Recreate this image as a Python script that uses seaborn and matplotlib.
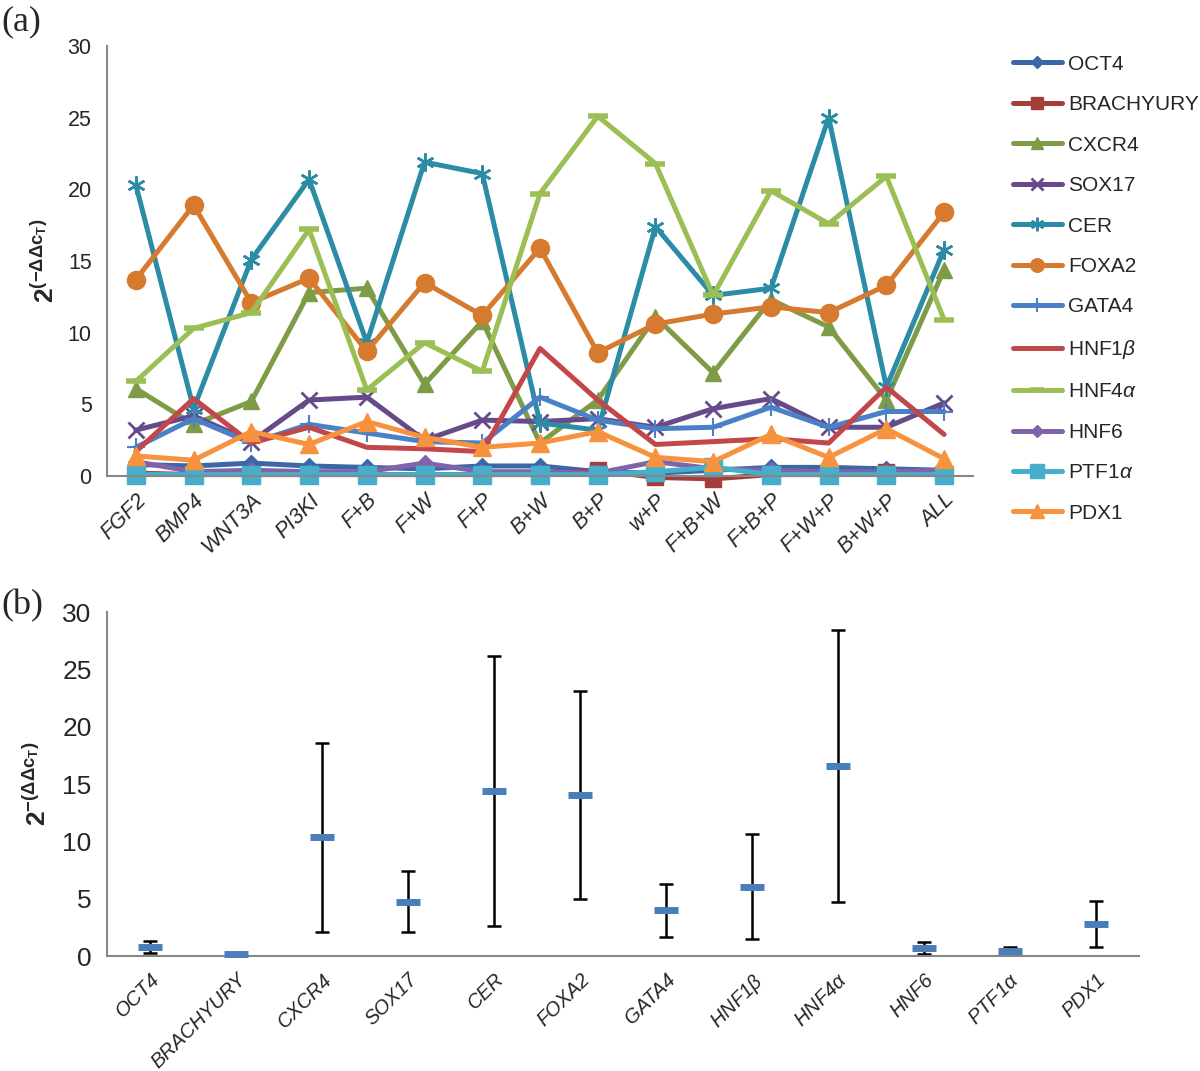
import numpy as np
import pandas as pd
import matplotlib
matplotlib.use("Agg")
import matplotlib.pyplot as plt
import seaborn as sns
from matplotlib.ticker import FixedLocator, MultipleLocator

# ---------------- data ----------------
conditions = ["FGF2", "BMP4", "WNT3A", "PI3KI", "F+B", "F+W", "F+P", "B+W", "B+P",
              "w+P", "F+B+W", "F+B+P", "F+W+P", "B+W+P", "ALL"]

oct4      = [0.8, 0.7, 0.9, 0.7, 0.6, 0.5, 0.7, 0.7, 0.3, 0.2, 0.4, 0.6, 0.6, 0.5, 0.4]
brachyury = [0.2, 0.1, 0.1, 0.1, 0.1, 0.1, 0.1, 0.1, 0.4, -0.1, -0.2, 0.1, 0.1, 0.3, 0.1]
cxcr4     = [6.1, 3.6, 5.2, 12.8, 13.1, 6.4, 10.8, 2.3, 5.3, 11.1, 7.2, 12.3, 10.4, 5.3, 14.4]
sox17     = [3.2, 4.2, 2.4, 5.3, 5.5, 2.5, 3.9, 3.8, 4.0, 3.4, 4.7, 5.4, 3.4, 3.4, 5.1]
cer       = [20.3, 4.7, 15.1, 20.7, 9.3, 21.9, 21.1, 3.7, 3.2, 17.4, 12.6, 13.1, 25.0, 6.2, 15.8]
foxa2     = [13.7, 18.9, 12.1, 13.8, 8.7, 13.5, 11.2, 15.9, 8.6, 10.6, 11.3, 11.8, 11.4, 13.3, 18.4]
gata4     = [2.0, 4.0, 2.3, 3.6, 3.0, 2.4, 2.3, 5.5, 3.9, 3.3, 3.4, 4.8, 3.4, 4.5, 4.5]
hnf1b     = [1.7, 5.4, 2.3, 3.4, 2.0, 1.9, 1.7, 8.9, 5.3, 2.2, 2.4, 2.6, 2.3, 6.2, 2.9]
hnf4a     = [6.6, 10.3, 11.4, 17.2, 6.0, 9.3, 7.3, 19.7, 25.1, 21.8, 12.6, 19.9, 17.6, 20.9, 10.9]
hnf6      = [1.0, 0.3, 0.4, 0.3, 0.3, 0.9, 0.3, 0.3, 0.2, 1.0, 0.5, 0.4, 0.3, 0.3, 0.4]
ptf1a     = [0.1, 0.1, 0.1, 0.1, 0.1, 0.1, 0.1, 0.1, 0.1, 0.3, 0.6, 0.1, 0.1, 0.1, 0.1]
pdx1      = [1.4, 1.1, 3.1, 2.2, 3.8, 2.7, 2.0, 2.3, 3.1, 1.3, 1.0, 2.9, 1.3, 3.3, 1.2]

genes = ["OCT4", "BRACHYURY", "CXCR4", "SOX17", "CER", "FOXA2", "GATA4",
         "HNF1β", "HNF4α", "HNF6", "PTF1α", "PDX1"]
gene_legend = ["OCT4", "BRACHYURY", "CXCR4", "SOX17", "CER", "FOXA2", "GATA4",
               r"HNF1$\beta$", r"HNF4$\alpha$", "HNF6", r"PTF1$\alpha$", "PDX1"]
gene_mean = [0.8, 0.15, 10.35, 4.75, 14.4, 14.05, 4.0, 6.05, 16.55, 0.7, 0.45, 2.8]
gene_sd   = [0.5, 0.1, 8.25, 2.65, 11.8, 9.05, 2.3, 4.6, 11.85, 0.5, 0.35, 2.0]

series = [oct4, brachyury, cxcr4, sox17, cer, foxa2, gata4, hnf1b, hnf4a, hnf6, ptf1a, pdx1]

# ---------------- styles ----------------
colors = ["#3B67A6", "#A33E3B", "#7E9C45", "#664A8A", "#2C8CA6", "#D57A2F",
          "#4A80C6", "#C3474A", "#9BBF55", "#8063A8", "#46AECB", "#F7923F"]
markers = ["D", "s", "^", "x", (6, 2, 0), "o", "+", None, "_", "D", "s", "^"]
msizes  = [8, 11, 12, 12, 13, 13, 13, 0, 14, 8, 13, 13]
mews    = [1, 1, 1, 2, 1.8, 1, 1.5, 1, 4, 1, 1, 1]

sns.set_style("white")
plt.rcParams["font.family"] = ["Liberation Sans", "DejaVu Sans"]
plt.rcParams["mathtext.fontset"] = "custom"
plt.rcParams["mathtext.rm"] = "Liberation Sans"
plt.rcParams["mathtext.it"] = "Liberation Sans:italic"
plt.rcParams["mathtext.bf"] = "Liberation Sans:bold"

narrow = ["Liberation Sans Narrow", "Liberation Sans"]
gray = "#878787"

fig = plt.figure(figsize=(12, 10.71), dpi=100)
W, H = 1200, 1071
ax1 = fig.add_axes([107 / W, 1 - 476 / H, (973 - 107) / W, (476 - 46) / H])
ax2 = fig.add_axes([107 / W, 1 - 956 / H, (1139 - 107) / W, (956 - 612) / H])

# ---------------- panel (a) ----------------
xpos = np.arange(len(conditions))
for name, vals, c, m, ms, mew in zip(gene_legend, series, colors, markers, msizes, mews):
    df = pd.DataFrame({"x": xpos, "y": vals})
    kw = dict(marker=m, markersize=ms, markeredgewidth=mew,
              markerfacecolor=c, markeredgecolor=c) if m is not None else {}
    sns.lineplot(data=df, x="x", y="y", ax=ax1, color=c, linewidth=3.6,
                 label=name, clip_on=False, **kw)

ax1.set_xlim(-0.5, len(conditions) - 0.5)
ax1.set_ylim(0, 30)
ax1.yaxis.set_major_locator(MultipleLocator(5))
ax1.set_xticks(xpos)
ax1.set_xticklabels(conditions, rotation=45, ha="right", rotation_mode="anchor",
                    fontstyle="italic", family=narrow, fontsize=15.5)
ax1.xaxis.set_minor_locator(FixedLocator(np.arange(-0.5, len(conditions), 1.0)))
ax1.tick_params(axis="x", which="major", length=0, pad=10)
ax1.tick_params(axis="x", which="minor", length=6, color=gray, width=1.3, direction="out")
ax1.tick_params(axis="y", length=5, color=gray, width=1.3, direction="out",
                labelsize=15.5, pad=6)
ax1.set_xlabel("")
ax1.set_ylabel(r"$\mathbf{2^{(-\Delta\Delta c_T)}}$", fontsize=19, labelpad=6)
for s in ["top", "right"]:
    ax1.spines[s].set_visible(False)
for s in ["left", "bottom"]:
    ax1.spines[s].set_color(gray)
    ax1.spines[s].set_linewidth(1.5)
ax1.get_legend().remove()

handles, labels = ax1.get_legend_handles_labels()
leg = fig.legend(handles, labels, loc="upper left", bbox_to_anchor=(994 / W, 1 - 36 / H),
                 frameon=False, fontsize=15, handlelength=2.35, handletextpad=0.3,
                 labelspacing=1.03, markerscale=0.75)

fig.text(1 / W, 1 - 22 / H, "(a)", family=["Liberation Serif", "DejaVu Serif"],
         fontsize=26, va="center", ha="left")
fig.text(1 / W, 1 - 606 / H, "(b)", family=["Liberation Serif", "DejaVu Serif"],
         fontsize=26, va="center", ha="left")

# ---------------- panel (b) ----------------
gpos = np.arange(len(genes))
ax2.errorbar(gpos, gene_mean, yerr=gene_sd, fmt="none", ecolor="black",
             elinewidth=1.8, capsize=5, capthick=1.8, zorder=2)
dfb = pd.DataFrame({"x": gpos, "y": gene_mean})
sns.scatterplot(data=dfb, x="x", y="y", ax=ax2, marker="_", s=300, linewidth=5,
                color="#4A7EBB", zorder=3, clip_on=False)
ax2.set_xlim(-0.5, len(genes) - 0.5)
ax2.set_ylim(0, 30)
ax2.yaxis.set_major_locator(MultipleLocator(5))
ax2.set_xticks(gpos)
ax2.set_xticklabels(gene_legend, rotation=45, ha="right", rotation_mode="anchor",
                    fontstyle="italic", family=narrow, fontsize=14.5)
ax2.xaxis.set_minor_locator(FixedLocator(np.arange(-0.5, len(genes), 1.0)))
ax2.tick_params(axis="x", which="major", length=0, pad=10)
ax2.tick_params(axis="x", which="minor", length=6, color=gray, width=1.3, direction="out")
ax2.tick_params(axis="y", length=5, color=gray, width=1.3, direction="out",
                labelsize=19, pad=6)
for lab in ax2.get_yticklabels():
    lab.set_family(narrow)
ax2.set_xlabel("")
ax2.set_ylabel(r"$\mathbf{2^{-(\Delta\Delta c_T)}}$", fontsize=19, labelpad=8)
for s in ["top", "right"]:
    ax2.spines[s].set_visible(False)
for s in ["left", "bottom"]:
    ax2.spines[s].set_color(gray)
    ax2.spines[s].set_linewidth(1.5)

fig.savefig("out.png", dpi=100)
